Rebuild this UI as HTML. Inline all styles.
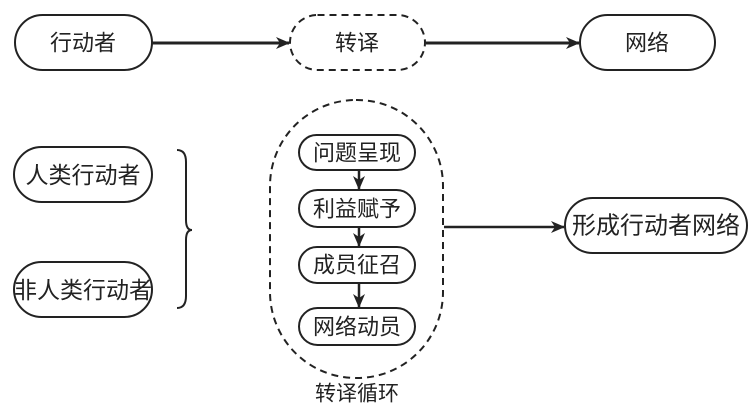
<!DOCTYPE html>
<html><head><meta charset="utf-8"><style>
html,body{margin:0;padding:0;background:#fff;}
svg{display:block;}
text{font-family:"Liberation Sans","Noto Sans CJK SC",sans-serif;fill:#222;text-anchor:middle;dominant-baseline:central;}
</style></head><body>
<svg width="750" height="411" viewBox="0 0 750 411" xmlns="http://www.w3.org/2000/svg">
<defs>
<marker id="a" markerWidth="14" markerHeight="12" refX="13" refY="6" orient="auto" markerUnits="userSpaceOnUse">
<path d="M0,0 L14,6 L0,12 L4,6 Z" fill="#222"/>
</marker>
</defs>
<g fill="none" stroke="#222" stroke-width="2">
<rect x="15" y="15" width="137" height="55" rx="27.5"/>
<rect x="290" y="15" width="135" height="55" rx="27.5" stroke-dasharray="7,5"/>
<rect x="580" y="15" width="135" height="55" rx="27.5"/>
<line x1="152" y1="43" x2="289" y2="43" stroke-width="3" marker-end="url(#a)"/>
<line x1="426" y1="43" x2="579" y2="43" stroke-width="3" marker-end="url(#a)"/>
<rect x="14" y="147" width="138" height="55" rx="27.5"/>
<rect x="14" y="262" width="138" height="55" rx="27.5"/>
<path d="M177,150 Q186,150 186,162 L186,220 Q186,230 192,230 Q186,230 186,240 L186,296 Q186,308 177,308"/>
<rect x="270" y="100" width="173" height="278" rx="86" stroke-dasharray="7,5"/>
<rect x="299" y="135" width="116" height="35" rx="17.5"/>
<rect x="299" y="190" width="116" height="37" rx="18.5"/>
<rect x="299" y="247" width="116" height="36" rx="18"/>
<rect x="299" y="308" width="116" height="37" rx="18.5"/>
<line x1="359" y1="170" x2="359" y2="189" stroke-width="2.5" marker-end="url(#a)"/>
<line x1="359" y1="227" x2="359" y2="246" stroke-width="2.5" marker-end="url(#a)"/>
<line x1="359" y1="283" x2="359" y2="307" stroke-width="2.5" marker-end="url(#a)"/>
<line x1="444" y1="227" x2="564" y2="227" stroke-width="2.5" marker-end="url(#a)"/>
<rect x="565" y="198" width="182" height="55" rx="27.5"/>
</g>
<text x="83" y="43" font-size="22">行动者</text>
<text x="357" y="43" font-size="22">转译</text>
<text x="647" y="43" font-size="22">网络</text>
<text x="83" y="175" font-size="23">人类行动者</text>
<text x="83" y="290" font-size="23">非人类行动者</text>
<text x="357" y="153" font-size="22">问题呈现</text>
<text x="357" y="209" font-size="22">利益赋予</text>
<text x="357" y="265" font-size="22">成员征召</text>
<text x="357" y="327" font-size="22">网络动员</text>
<text x="357" y="394" font-size="21">转译循环</text>
<text x="656" y="226" font-size="24">形成行动者网络</text>
</svg>
</body></html>
